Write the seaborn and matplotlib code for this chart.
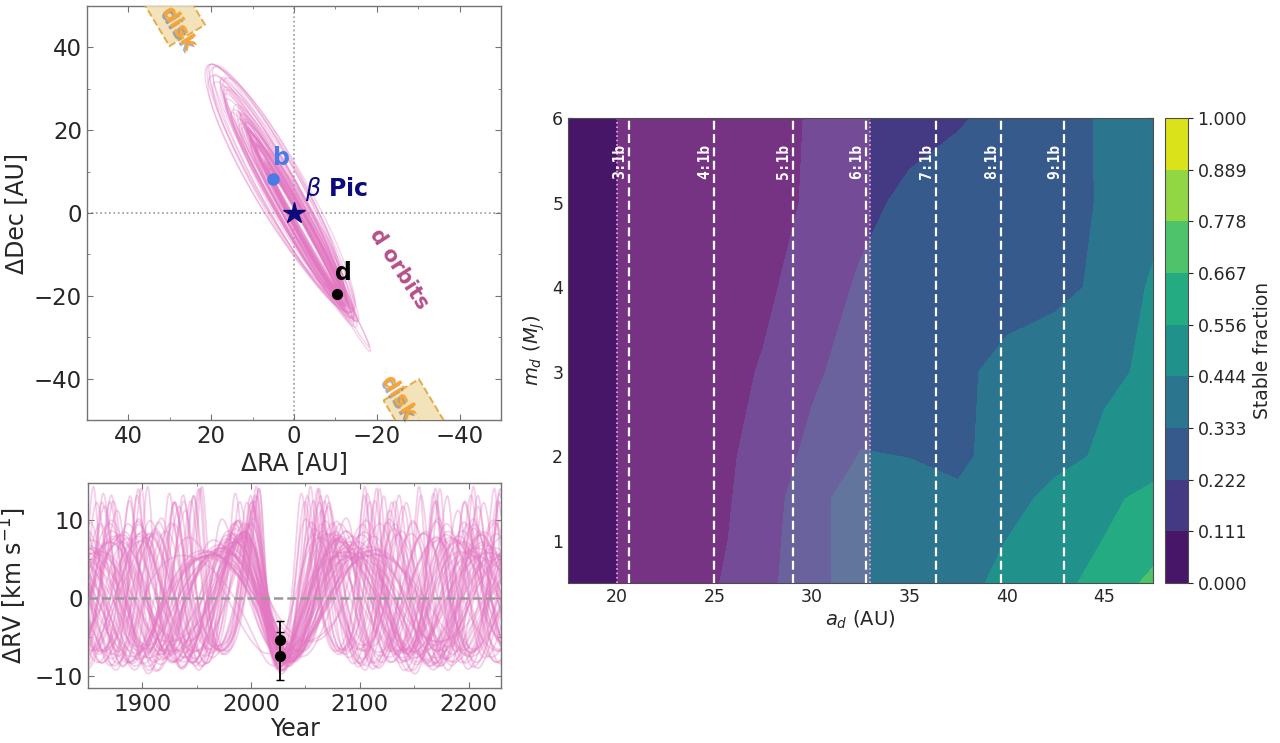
import numpy as np
import pandas as pd
import matplotlib
matplotlib.use("Agg")
import matplotlib.pyplot as plt
from matplotlib.patches import Polygon
from matplotlib.ticker import MultipleLocator
from matplotlib.transforms import offset_copy
import seaborn as sns

# ---- posterior draws of beta Pic d (a [AU], e, omega, i, Omega [deg]) ----
a_au = [16.5, 17.0, 17.4, 17.9, 18.3, 18.8, 19.2, 19.6, 20.0, 20.4, 20.9, 17.7, 18.6, 19.9,
        20.2, 20.7, 21.1, 21.5, 21.9, 22.3, 22.7, 23.1, 23.5, 23.9, 24.3, 24.7, 25.1, 25.5,
        25.9, 26.3, 26.7, 27.1, 27.5, 27.9, 28.3, 28.7, 29.1, 29.5, 29.9, 30.3, 22.0, 23.3,
        24.6, 25.8, 26.9, 28.0, 21.3, 24.0, 27.3, 29.7,
        28.5, 29.2, 29.8, 30.5, 31.1, 31.8, 32.4, 33.0, 33.7, 34.4, 35.2, 30.0, 31.5, 32.8,
        34.0, 29.0]
ecc = [0.36, 0.30, 0.40, 0.27, 0.34, 0.38, 0.25, 0.31, 0.35, 0.28, 0.33, 0.39, 0.29, 0.37,
       0.12, 0.22, 0.08, 0.28, 0.18, 0.05, 0.25, 0.15, 0.30, 0.10, 0.20, 0.26, 0.14, 0.07,
       0.23, 0.17, 0.29, 0.11, 0.21, 0.16, 0.27, 0.09, 0.30, 0.24, 0.13, 0.28, 0.31, 0.06,
       0.18, 0.26, 0.12, 0.20, 0.15, 0.28, 0.10, 0.17,
       0.22, 0.15, 0.27, 0.12, 0.24, 0.18, 0.28, 0.14, 0.25, 0.20, 0.16, 0.30, 0.10, 0.23,
       0.19, 0.26]
omega_deg = [10, 345, 30, 355, 20, 335, 40, 5, 325, 15, 350, 25, 340, 0,
             60, 290, 100, 75, 250, 120, 305, 85, 50, 270, 110, 315, 65, 240,
             95, 280, 55, 130, 300, 70, 260, 115, 340, 80, 235, 20, 295, 90,
             125, 310, 255, 60, 275, 105, 230, 285,
             170, 200, 150, 185, 215, 160, 190, 145, 205, 175, 230, 195, 140, 180,
             165, 210]
inc_deg = [86.0, 87.5, 84.5, 87.0, 84.0, 86.5, 88.5, 85.0, 85.5, 88.0, 83.5, 87.3, 86.3, 84.7,
           84.5, 87.0, 83.0, 86.0, 88.0, 84.3, 86.7, 85.3, 82.0, 88.3, 85.7, 83.7, 87.3, 84.9,
           88.7, 83.3, 86.3, 87.7, 84.1, 86.5, 85.1, 82.3, 87.5, 85.5, 83.5, 86.9, 84.7, 89.0,
           82.7, 86.1, 87.9, 83.9, 87.1, 85.4, 82.5, 85.8,
           82.0, 84.0, 80.0, 85.5, 81.5, 83.5, 79.0, 85.0, 82.0, 80.8, 84.5, 78.5, 83.0, 81.0,
           79.8, 83.8]
node_deg = [29.0, 29.5, 28.5, 30.0, 29.3, 28.3, 29.7, 28.7, 30.3, 29.1, 28.9, 29.9, 28.1, 29.4,
            29.6, 28.8, 30.1, 29.2, 28.4, 29.8, 28.6, 29.3, 30.2, 29.0, 28.2, 29.5, 29.1, 30.4,
            28.7, 29.9, 29.4, 28.0, 29.7, 28.9, 30.5, 29.2, 29.6, 28.8, 30.0, 28.5, 29.3, 29.8,
            29.1, 29.5, 28.7, 29.4, 29.9, 29.0, 30.1, 28.6,
            28.9, 29.7, 28.3, 29.4, 30.0, 28.6, 29.5, 29.1, 28.4, 29.8, 29.2, 30.3, 28.8, 28.2,
            29.6, 29.0]
assert len({len(a_au), len(ecc), len(omega_deg), len(inc_deg), len(node_deg)}) == 1

m_star = 1.8          # Msun
epoch_d = 2026.5
d_pos = (-10.3, -19.6)
b_pos = (5.0, 8.1)

# relative RV measurements of d
rv_year = [2026.5, 2026.5]
rv_val = [-5.3, -7.4]
rv_err = [2.4, 3.1]

# ---- stability map ----
grid_a = [17.5, 20.0, 22.5, 25.0, 27.5, 30.0, 32.5, 35.0, 37.5, 40.0, 42.5, 45.0, 47.5]
grid_m = [0.5, 1.0, 1.5, 2.0, 3.0, 4.0, 5.0, 6.0]
stable_frac = [
    [0.00, 0.02, 0.05, 0.10, 0.20, 0.27, 0.43, 0.43, 0.435, 0.452, 0.52, 0.598, 0.694],
    [0.00, 0.02, 0.05, 0.09, 0.165, 0.315, 0.36, 0.38, 0.40, 0.446, 0.50, 0.558, 0.62],
    [0.00, 0.02, 0.04, 0.085, 0.155, 0.303, 0.378, 0.36, 0.34, 0.40, 0.479, 0.53, 0.589],
    [0.00, 0.02, 0.04, 0.08, 0.146, 0.254, 0.338, 0.332, 0.325, 0.35, 0.41, 0.462, 0.50],
    [0.00, 0.01, 0.03, 0.07, 0.119, 0.20, 0.279, 0.29, 0.31, 0.365, 0.39, 0.43, 0.457],
    [0.00, 0.01, 0.02, 0.05, 0.09, 0.158, 0.238, 0.25, 0.27, 0.29, 0.31, 0.351, 0.462],
    [0.00, 0.01, 0.02, 0.04, 0.08, 0.122, 0.19, 0.249, 0.26, 0.28, 0.30, 0.342, 0.40],
    [0.00, 0.01, 0.02, 0.04, 0.07, 0.12, 0.15, 0.18, 0.215, 0.244, 0.30, 0.343, 0.40],
]
res_labels = ["3:1b", "4:1b", "5:1b", "6:1b", "7:1b", "8:1b", "9:1b"]
res_a = [20.65, 25.0, 29.05, 32.8, 36.35, 39.7, 42.95]
d_range = (20.0, 33.0)

PINK = "#e377c2"


def solve_kepler(M, e):
    E = M.copy()
    for _ in range(40):
        E = E - (E - e * np.sin(E) - M) / (1 - e * np.cos(E))
    return E


def sky_xy(nu, a, e, w, inc, node):
    r = a * (1 - e ** 2) / (1 + e * np.cos(nu))
    th = nu + w
    X = r * np.cos(th)
    Y = r * np.sin(th) * np.cos(inc)
    return X * np.sin(node) + Y * np.cos(node), X * np.cos(node) - Y * np.sin(node)


nu_grid = np.linspace(0, 2 * np.pi, 721)
years = np.linspace(1850, 2230, 1500)
sky_parts, rv_parts = [], []
for k, (a, e, w, inc, node) in enumerate(zip(a_au, ecc, omega_deg, inc_deg, node_deg)):
    w, inc, node = np.radians([w, inc, node])
    ra, dec = sky_xy(nu_grid, a, e, w, inc, node)
    sky_parts.append(pd.DataFrame({"orbit": k, "ra": ra, "dec": dec}))
    # phase: the orbit point closest to the detected position of d
    j = np.argmin((ra - d_pos[0]) ** 2 + (dec - d_pos[1]) ** 2)
    nu_d = nu_grid[j]
    E_d = 2 * np.arctan2(np.sqrt(1 - e) * np.sin(nu_d / 2), np.sqrt(1 + e) * np.cos(nu_d / 2))
    M_d = E_d - e * np.sin(E_d)
    P = np.sqrt(a ** 3 / m_star)
    E = solve_kepler(M_d + 2 * np.pi * (years - epoch_d) / P, e)
    nu = 2 * np.arctan2(np.sqrt(1 + e) * np.sin(E / 2), np.sqrt(1 - e) * np.cos(E / 2))
    K = 2 * np.pi * a * np.sin(inc) / (P * np.sqrt(1 - e ** 2)) * 4.74047
    rv_parts.append(pd.DataFrame({"orbit": k, "year": years,
                                  "rv": K * (np.cos(nu + w) + e * np.cos(w))}))
sky_df = pd.concat(sky_parts, ignore_index=True)
rv_df = pd.concat(rv_parts, ignore_index=True)

sns.set_style("ticks")
plt.rcParams["font.family"] = ["DejaVu Sans"]
plt.rcParams["mathtext.fontset"] = "dejavusans"

fig = plt.figure(figsize=(12.8, 7.43), dpi=100)
ax_sky = fig.add_axes([0.068, 0.4347, 0.3234, 0.5572])
ax_rv = fig.add_axes([0.0688, 0.074, 0.3227, 0.2759])
ax_map = fig.add_axes([0.4438, 0.2153, 0.457, 0.6258])
cax = fig.add_axes([0.910, 0.2153, 0.018, 0.6258])

# ---------------- sky plane ----------------
sns.lineplot(data=sky_df, x="ra", y="dec", units="orbit", estimator=None, sort=False,
             color=PINK, lw=1.0, alpha=0.33, ax=ax_sky, legend=False)
ax_sky.axvline(0, color="0.6", ls=":", lw=1.2, zorder=0)
ax_sky.axhline(0, color="0.6", ls=":", lw=1.2, zorder=0)


def disk_box(ax, center, text_xy, pa_deg):
    pa = np.radians(pa_deg)
    u = np.array([np.sin(pa), np.cos(pa)])
    v = np.array([np.cos(pa), -np.sin(pa)])
    c = np.array(center)
    corners = [c + s1 * 7.0 * u + s2 * 5.0 * v for s1, s2 in [(1, 1), (1, -1), (-1, -1), (-1, 1)]]
    ax.add_patch(Polygon(corners, closed=True, facecolor="#f1dfae", edgecolor="#e0a030",
                         ls="--", lw=1.4, alpha=0.85, zorder=3))
    # soft dark shadow under the label
    shadow = offset_copy(ax.transData, fig=ax.figure, x=-1.5, y=-1.5, units="points")
    ax.text(*text_xy, "disk", rotation=-58, ha="center", va="center", color="#3e4c7c",
            alpha=0.45, fontsize=15, fontweight="bold", zorder=4, transform=shadow)
    ax.text(*text_xy, "disk", rotation=-58, ha="center", va="center", color="#f8a534",
            fontsize=15, fontweight="bold", zorder=5)


disk_box(ax_sky, (29.4, 48.9), (28.0, 44.7), 31)
disk_box(ax_sky, (-29.5, -48.7), (-25.1, -44.4), 31)

ax_sky.plot(*b_pos, "o", color="#4a7be6", ms=8, zorder=5)
ax_sky.text(3.0, 13.3, "b", color="#4a7be6", fontsize=17, fontweight="bold", ha="center", va="center")
ax_sky.plot(0, 0, "*", color="#0b0b7a", ms=16, zorder=5)
ax_sky.text(-2.7, 5.9, r"$\beta$ Pic", color="#0b0b7a", fontsize=17, fontweight="bold",
            ha="left", va="center")
ax_sky.plot(*d_pos, "o", color="black", ms=7, zorder=5)
ax_sky.text(-11.9, -14.6, "d", color="black", fontsize=17, fontweight="bold", ha="center", va="center")
ax_sky.text(-25.4, -13.5, "d orbits", color="#b5508a", fontsize=15, fontweight="bold",
            rotation=-57, ha="center", va="center")

ax_sky.set_xlim(50, -50)
ax_sky.set_ylim(-50, 50)
ax_sky.set_xlabel("ΔRA [AU]", fontsize=17, labelpad=2)
ax_sky.set_ylabel("ΔDec [AU]", fontsize=17)
ax_sky.xaxis.set_major_locator(MultipleLocator(20))
ax_sky.yaxis.set_major_locator(MultipleLocator(20))
ax_sky.xaxis.set_minor_locator(MultipleLocator(10))
ax_sky.yaxis.set_minor_locator(MultipleLocator(10))

# ---------------- radial velocity ----------------
sns.lineplot(data=rv_df, x="year", y="rv", units="orbit", estimator=None,
             color=PINK, lw=1.3, alpha=0.35, ax=ax_rv, legend=False)
ax_rv.axhline(0, color="0.6", ls="--", lw=1.8, zorder=3)
ax_rv.errorbar(rv_year, rv_val, yerr=rv_err, fmt="o", color="black", ms=7,
               capsize=3, elinewidth=1.3, zorder=5)
ax_rv.set_xlim(1850, 2230)
ax_rv.set_ylim(-11.5, 14.7)
ax_rv.set_xlabel("Year", fontsize=17, labelpad=1)
ax_rv.set_ylabel(r"ΔRV [km s$^{-1}$]", fontsize=17)
ax_rv.xaxis.set_major_locator(MultipleLocator(100))
ax_rv.xaxis.set_minor_locator(MultipleLocator(50))
ax_rv.yaxis.set_major_locator(MultipleLocator(10))
ax_rv.yaxis.set_minor_locator(MultipleLocator(5))

for ax in (ax_sky, ax_rv):
    ax.tick_params(which="both", direction="in", top=True, right=True, color="0.45",
                   labelsize=16.5)
    ax.tick_params(which="major", length=4)
    ax.tick_params(which="minor", length=2.5)
    for s in ax.spines.values():
        s.set_color("0.45")
        s.set_linewidth(1.0)

# ---------------- stability map ----------------
A, Mg = np.meshgrid(grid_a, grid_m)
levels = np.linspace(0, 1, 10)
cs = ax_map.contourf(A, Mg, np.array(stable_frac), levels=levels, cmap="viridis")
ax_map.axvspan(*d_range, color=PINK, alpha=0.3, lw=0)
for x in d_range:
    ax_map.axvline(x, color="#f2a9dc", ls=":", lw=1.2)
for x, lab in zip(res_a, res_labels):
    ax_map.axvline(x, color="white", ls=(0, (4, 2)), lw=1.6)
    ax_map.text(x - 0.1, 5.69, lab, rotation=90, ha="right", va="top", color="white",
                fontsize=10.5, fontweight="bold", family="DejaVu Sans Mono")
ax_map.set_xlim(17.5, 47.5)
ax_map.set_ylim(0.5, 6)
ax_map.set_xlabel(r"$a_d$ (AU)", fontsize=14, labelpad=2)
ax_map.set_ylabel(r"$m_d$ ($M_J$)", fontsize=14)
ax_map.xaxis.set_major_locator(MultipleLocator(5))
ax_map.xaxis.set_minor_locator(MultipleLocator(1))
ax_map.yaxis.set_major_locator(MultipleLocator(1))
ax_map.yaxis.set_minor_locator(MultipleLocator(0.25))
ax_map.tick_params(which="both", direction="in", top=True, right=True, labelsize=12.5)
ax_map.tick_params(which="minor", top=False, right=False, length=2)
for s in ax_map.spines.values():
    s.set_color("0.3")

cb = fig.colorbar(cs, cax=cax, ticks=levels, format="%.3f")
cb.set_label("Stable fraction", fontsize=13.5)
cb.ax.tick_params(labelsize=12.5)
cb.outline.set_edgecolor("0.3")

fig.savefig("out.png", dpi=100)
